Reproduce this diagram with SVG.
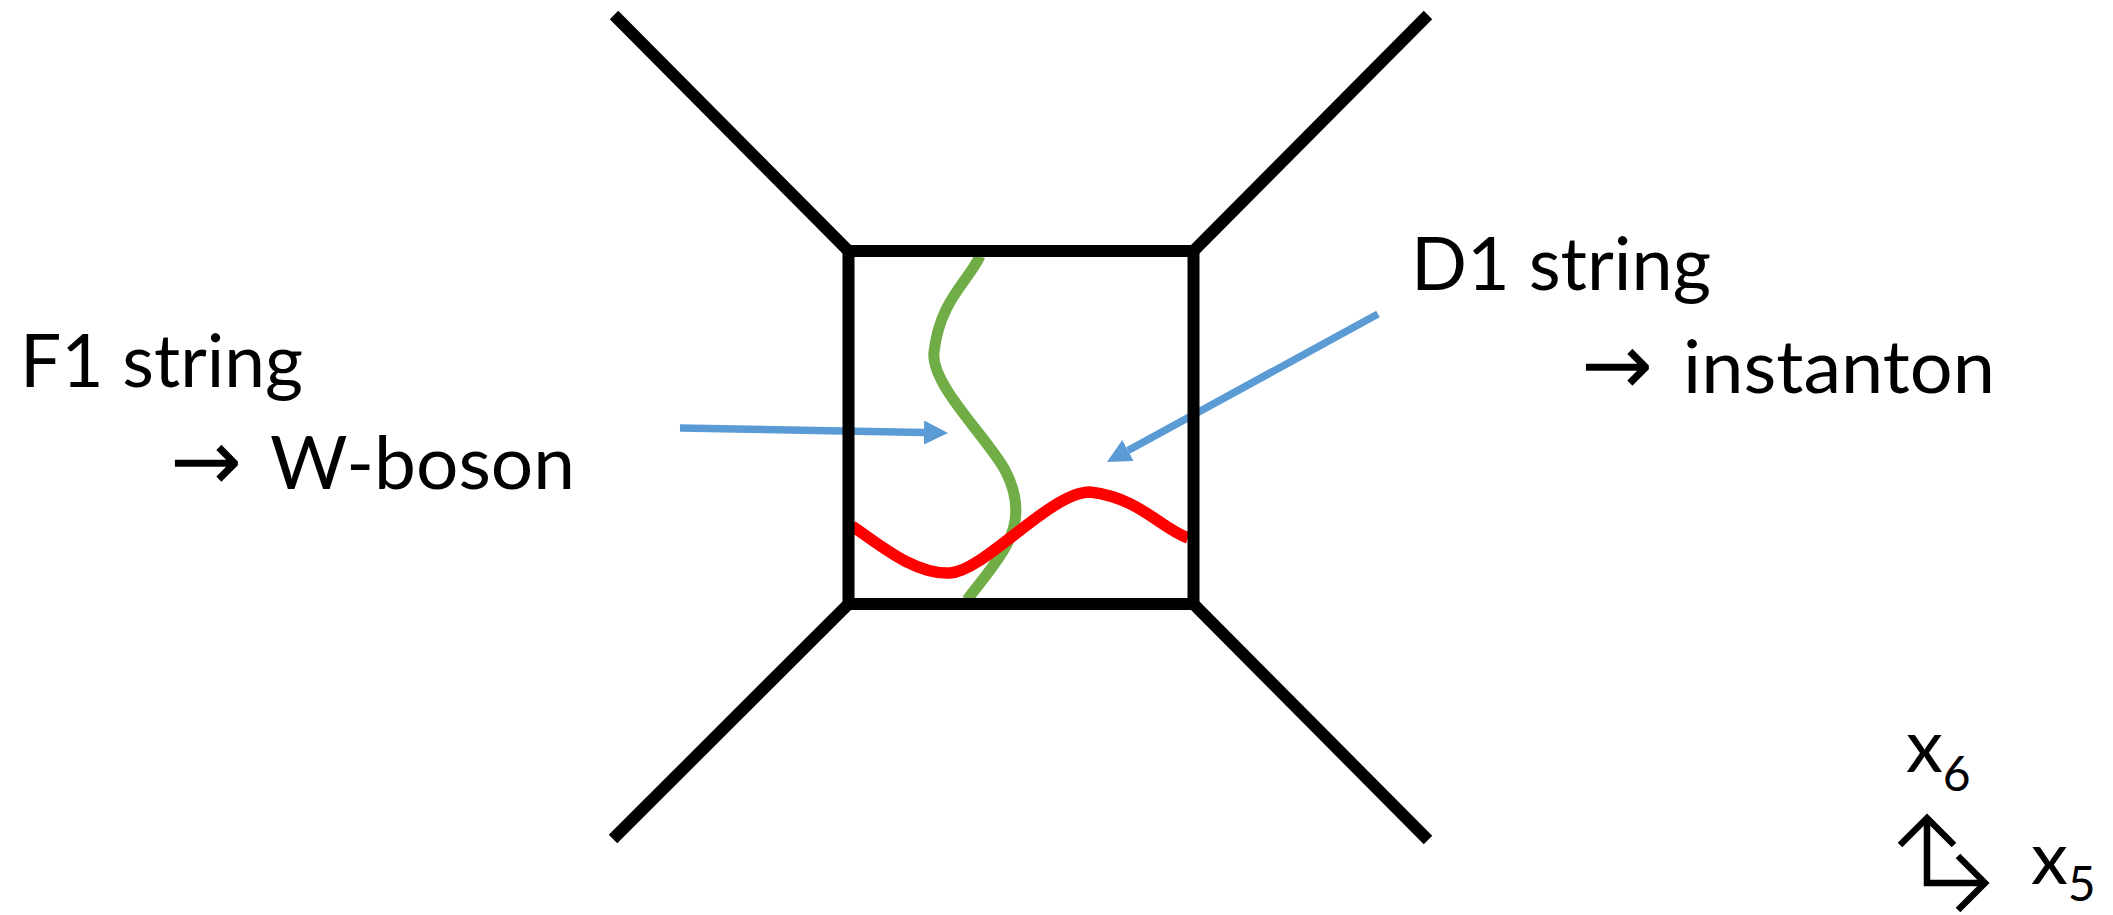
<svg xmlns="http://www.w3.org/2000/svg" width="2113" height="915" viewBox="0 0 2113 915">
  <style>
    .web { stroke: #000; stroke-width: 12; fill: none; stroke-linecap: butt; stroke-linejoin: miter; }
    .blue { stroke: #5B9BD5; stroke-width: 7.5; fill: none; marker-end: url(#ah); }
    .lbl { font-family: Lato, "Open Sans", sans-serif; font-size: 74px; fill: #000; }
    .arr { font-family: "DejaVu Sans", sans-serif; font-size: 86px; fill: #000; }
    .sub { font-size: 48px; }
    .axis { stroke: #000; stroke-width: 6.5; fill: none; stroke-linejoin: miter; stroke-linecap: butt; }
  </style>
  <defs>
    <marker id="ah" markerUnits="userSpaceOnUse" markerWidth="24" markerHeight="24" viewBox="0 0 24 24" refX="0" refY="12" orient="auto">
      <path d="M0,0 L24,12 L0,24 Z" fill="#5B9BD5"/>
    </marker>
  </defs>
  <rect width="2113" height="915" fill="#fff"/>

  <g id="connectors">
    <line class="blue" x1="680" y1="428" x2="924" y2="432.5"/>
    <line class="blue" x1="1378" y1="314" x2="1128" y2="450.5"/>
  </g>

  <g id="d1-string">
    <path d="M980,256 C968,282 940,300 934,352 C930,385 990,440 1006,472 C1020,500 1018,525 1006,546 C995,566 978,585 967,600" stroke="#70AD47" stroke-width="11" fill="none"/>
  </g>
  <g id="f1-string">
    <path d="M852,526 C880,545 915,575 950,573 C985,571 1050,492 1090,492 C1140,498 1160,528 1188,538" stroke="#FF0000" stroke-width="11.5" fill="none"/>
  </g>

  <g id="brane-web">
    <rect class="web" x="848.5" y="251" width="345" height="353"/>
    <line class="web" x1="848.5" y1="251" x2="614" y2="15"/>
    <line class="web" x1="1193.5" y1="251" x2="1428" y2="15"/>
    <line class="web" x1="848.5" y1="604" x2="613" y2="839"/>
    <line class="web" x1="1193.5" y1="604" x2="1428" y2="840"/>
  </g>

  <g id="label-f1">
    <text class="lbl" x="20" y="387" textLength="283" lengthAdjust="spacingAndGlyphs">F1 string</text>
    <text class="arr" x="170" y="490">→</text>
    <text class="lbl" x="270" y="489" textLength="305" lengthAdjust="spacingAndGlyphs">W-boson</text>
  </g>

  <g id="label-d1">
    <text class="lbl" x="1411" y="290" textLength="300" lengthAdjust="spacingAndGlyphs">D1 string</text>
    <text class="arr" x="1581" y="394">→</text>
    <text class="lbl" x="1683" y="393" textLength="312" lengthAdjust="spacingAndGlyphs">instanton</text>
  </g>

  <g id="axes">
    <path class="axis" d="M1927,820 V883 H1985"/>
    <path class="axis" d="M1900,845 L1927,818 L1954,845"/>
    <path class="axis" d="M1958,856 L1985,883 L1958,910"/>
    <text class="lbl" x="1906" y="772">x<tspan class="sub" dy="19">6</tspan></text>
    <text class="lbl" x="2031" y="884">x<tspan class="sub" dy="17">5</tspan></text>
  </g>
</svg>
